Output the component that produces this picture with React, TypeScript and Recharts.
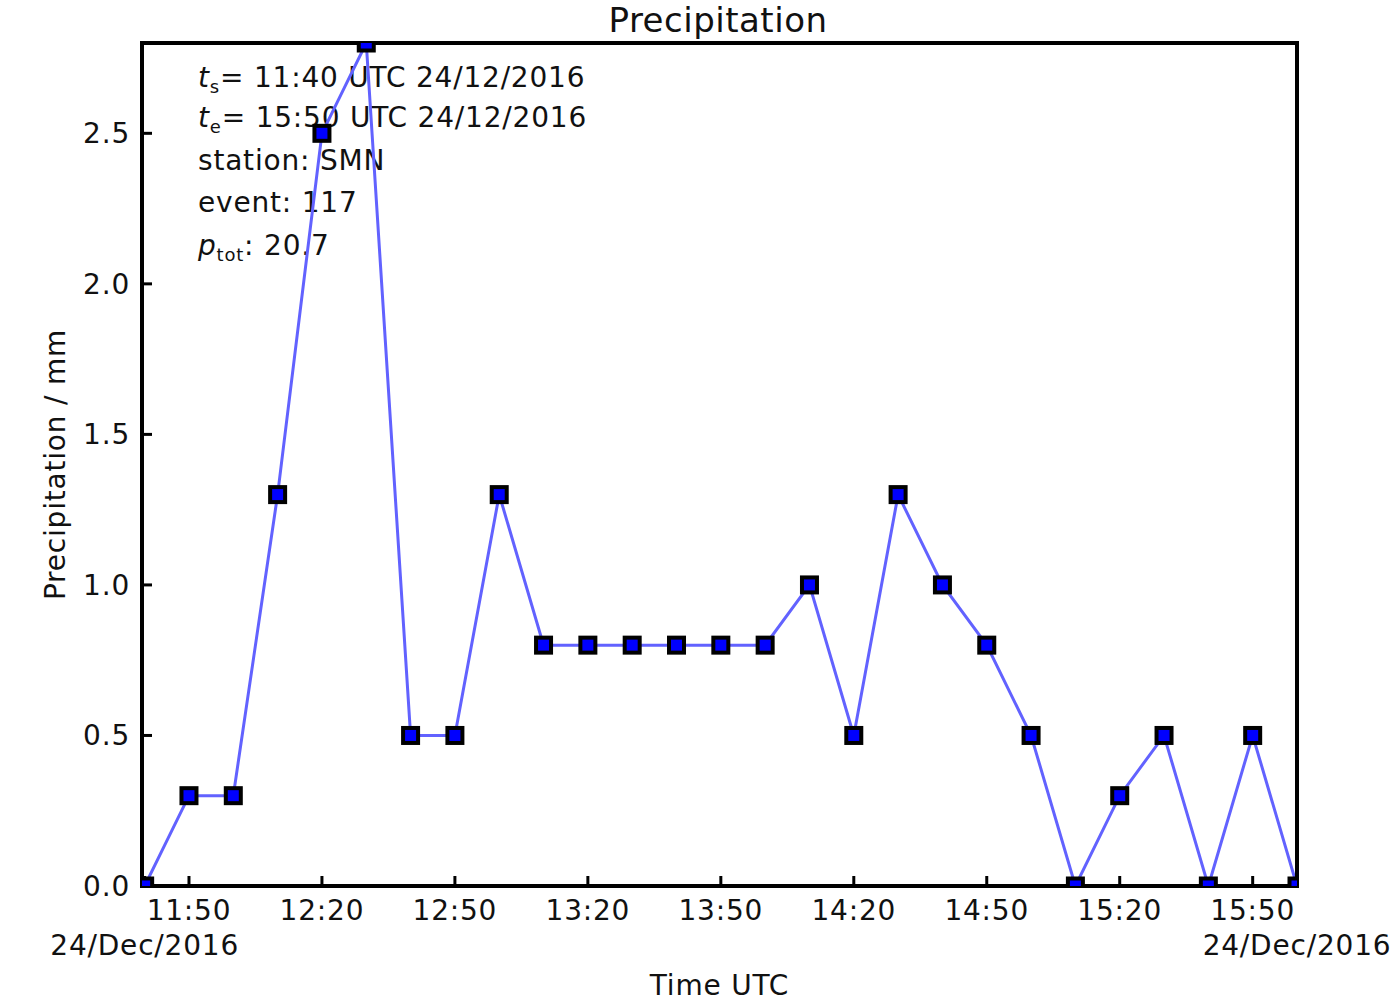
import React from "react";
import { LineChart, Line, XAxis, YAxis, Customized } from "recharts";

// 10-minute accumulations, 24 Dec 2016
const times = [
  "11:40", "11:50", "12:00", "12:10", "12:20", "12:30", "12:40", "12:50", "13:00",
  "13:10", "13:20", "13:30", "13:40", "13:50", "14:00", "14:10", "14:20", "14:30",
  "14:40", "14:50", "15:00", "15:10", "15:20", "15:30", "15:40", "15:50", "16:00",
];
const precip = [
  0, 0.3, 0.3, 1.3, 2.5, 2.8, 0.5, 0.5, 1.3,
  0.8, 0.8, 0.8, 0.8, 0.8, 0.8, 1.0, 0.5, 1.3,
  1.0, 0.8, 0.5, 0, 0.3, 0.5, 0, 0.5, 0,
];
const timeTicks = ["11:50", "12:20", "12:50", "13:20", "13:50", "14:20", "14:50", "15:20", "15:50"];
const dateTicks = ["11:40", "16:00"];
const dateLabel = "24/Dec/2016";
const yTicks = [0, 0.5, 1.0, 1.5, 2.0, 2.5];

const noteStart = "11:40 UTC 24/12/2016";
const noteEnd = "15:50 UTC 24/12/2016";
const station = "SMN";
const eventNo = "117";
const total = "20.7";

const FONT = "DejaVu Sans";
const INK = "#111";
const SPACING = 0.8;

const toMin = (t: string) => {
  const [h, m] = t.split(":").map(Number);
  return h * 60 + m;
};
const fmtMin = (v: number) => {
  const h = Math.floor(v / 60);
  const m = v % 60;
  return `${h}:${m < 10 ? "0" + m : m}`;
};

const data = times.map((t, i) => ({ t: toMin(t), p: precip[i] }));
const dateMins = dateTicks.map(toMin);
const xTicks = [...dateTicks, ...timeTicks].map(toMin).sort((a, b) => a - b);
const xDomain = [toMin("11:40") - 0.6, toMin("16:00")];

const XTick = (props: any) => {
  const { x, y, payload } = props;
  const isDate = dateMins.includes(payload.value);
  return (
    <g fontFamily={FONT} fontSize={28} fill={INK} letterSpacing={SPACING}>
      {!isDate && (
        <text x={x} y={y + 23} textAnchor="middle">
          {fmtMin(payload.value)}
        </text>
      )}
      {isDate && (
        <text x={x} y={y + 58} textAnchor="middle">
          {dateLabel}
        </text>
      )}
    </g>
  );
};

const SquareDot = (props: any) => {
  const { cx, cy, index } = props;
  if (cx == null || cy == null) return <g key={`d-${index}`} />;
  return (
    <rect
      key={`d-${index}`}
      x={cx - 7.5}
      y={cy - 7.5}
      width={15}
      height={15}
      fill="#0000ff"
      stroke="#000"
      strokeWidth={4}
    />
  );
};

const Notes = () => (
  <g fontFamily={FONT} fontSize={28} fill={INK} letterSpacing={SPACING}>
    <text x={718} y={32} fontSize={34} textAnchor="middle" letterSpacing={0.5}>
      Precipitation
    </text>
    <text x={198} y={87}>
      <tspan fontStyle="italic">t</tspan>
      <tspan fontSize={18} dy={6}>s</tspan>
      <tspan dy={-6}>= {noteStart}</tspan>
    </text>
    <text x={198} y={127}>
      <tspan fontStyle="italic">t</tspan>
      <tspan fontSize={18} dy={6}>e</tspan>
      <tspan dy={-6}>= {noteEnd}</tspan>
    </text>
    <text x={198} y={170}>station: {station}</text>
    <text x={198} y={212}>event: {eventNo}</text>
    <text x={198} y={255}>
      <tspan fontStyle="italic">p</tspan>
      <tspan fontSize={18} dy={6}>tot</tspan>
      <tspan dy={-6}>: {total}</tspan>
    </text>
  </g>
);

const frame = { stroke: "#000", strokeWidth: 4, strokeLinecap: "square" as const };
const tickMark = { stroke: "#000", strokeWidth: 3 };

export default function App() {
  return (
    <div style={{ position: "absolute", left: 0, top: 0, background: "#fff" }}>
      <LineChart
        width={1396}
        height={1001}
        data={data}
        margin={{ top: 0, right: 0, bottom: 0, left: 0 }}
      >
        <XAxis
          xAxisId="bottom"
          dataKey="t"
          type="number"
          domain={xDomain}
          allowDataOverflow
          ticks={xTicks}
          interval={0}
          height={115}
          axisLine={frame}
          tickLine={tickMark}
          tickSize={-10}
          tickMargin={21}
          tick={<XTick />}
          label={{
            value: "Time UTC",
            position: "insideBottom",
            offset: 6,
            style: { fontFamily: FONT, fontSize: 28, fill: INK, letterSpacing: SPACING },
          }}
        />
        <XAxis
          xAxisId="top"
          orientation="top"
          type="number"
          domain={xDomain}
          allowDataOverflow
          ticks={timeTicks.map(toMin)}
          interval={0}
          height={43}
          axisLine={frame}
          tickLine={tickMark}
          tickSize={-10}
          tick={false}
        />
        <YAxis
          yAxisId="left"
          type="number"
          domain={[0, 2.8]}
          allowDataOverflow
          ticks={yTicks}
          interval={0}
          width={142}
          axisLine={frame}
          tickLine={tickMark}
          tickSize={-10}
          tickMargin={22}
          tickFormatter={(v: number) => v.toFixed(1)}
          tick={{ fontFamily: FONT, fontSize: 28, fill: INK, letterSpacing: SPACING }}
          label={{
            value: "Precipitation / mm",
            angle: -90,
            position: "insideLeft",
            offset: 55,
            style: {
              textAnchor: "middle",
              fontFamily: FONT,
              fontSize: 28,
              fill: INK,
              letterSpacing: SPACING,
            },
          }}
        />
        <YAxis
          yAxisId="right"
          orientation="right"
          type="number"
          domain={[0, 2.8]}
          allowDataOverflow
          ticks={yTicks}
          interval={0}
          width={99}
          axisLine={frame}
          tickLine={tickMark}
          tickSize={-10}
          tick={false}
        />
        <Line
          xAxisId="bottom"
          yAxisId="left"
          dataKey="p"
          type="linear"
          stroke="#6262ff"
          strokeWidth={3}
          dot={SquareDot}
          activeDot={false}
          isAnimationActive={false}
        />
        <Customized component={Notes} />
      </LineChart>
    </div>
  );
}
